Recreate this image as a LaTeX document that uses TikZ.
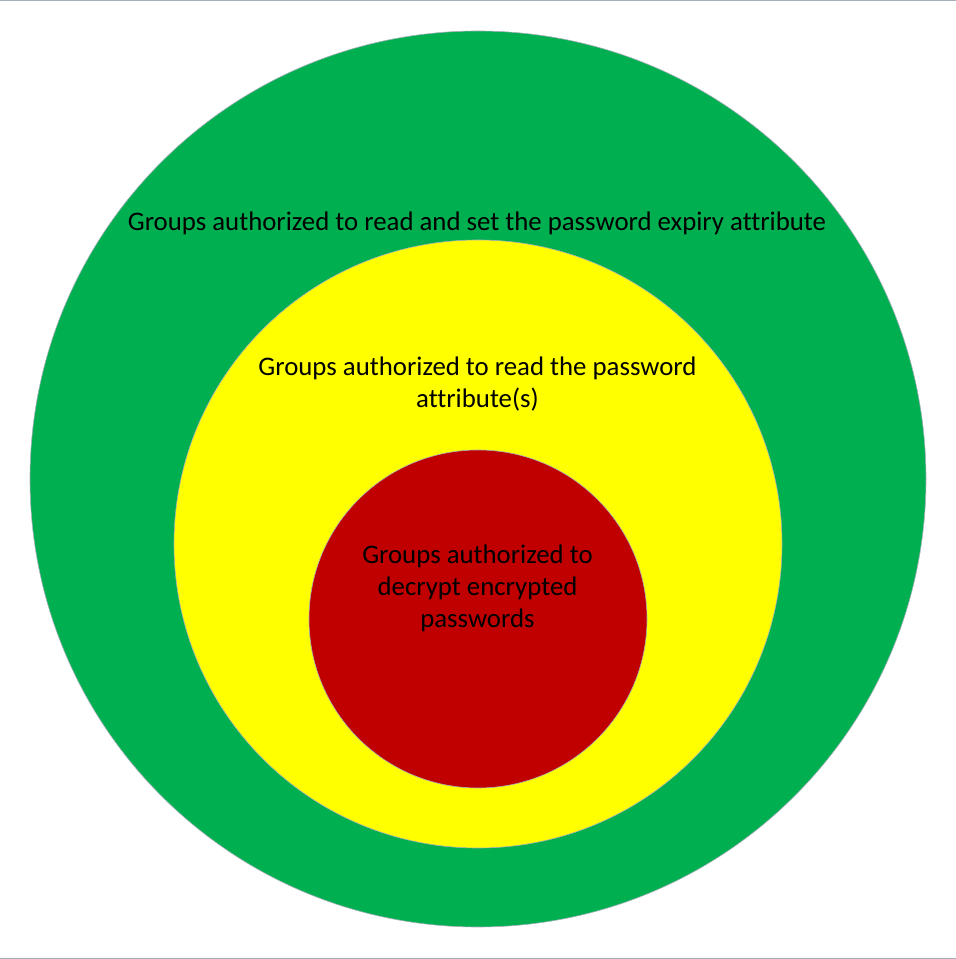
\documentclass[tikz,border=0pt]{standalone}
\usepackage{xcolor}
\usepackage{fontspec}
\setmainfont{Carlito}[Ligatures=NoCommon]
\usepackage{tikz}

\definecolor{ringgreen}{HTML}{00B050}
\definecolor{ringyellow}{HTML}{FFFF00}
\definecolor{ringred}{HTML}{C00000}
\definecolor{rimgray}{HTML}{A7AEBB}

\begin{document}
\begin{tikzpicture}[x=1pt,y=1pt,yscale=1,xscale=1,
  ring/.style={circle,draw=rimgray,line width=0.6pt,inner sep=0pt},
  ringtext/.style={align=center,inner sep=0.75pt,font=\fontsize{26.8}{32}\selectfont}]
\useasboundingbox (0,0) rectangle (956,959);
\draw [rimgray,line width=1pt] (0,958.5) -- (956,958.5) ;
\draw [rimgray,line width=1pt] (0,0.5) -- (956,0.5) ;
%Rings
\node [ring,fill=ringgreen,minimum size=896] (outer) at (478,480) {};
\node [ring,fill=ringyellow,minimum size=608] (middle) at (478,415) {};
\node [ring,fill=ringred,minimum size=338] (inner) at (478,340) {};
%Text
\node [ringtext] (outertext) at (477,736) {Groups authorized to read and set the password expiry attribute};
\node [ringtext] (middletext) at (477.5,575) {Groups authorized to read the password\\attribute(s)};
\node [ringtext] (innertext) at (477.5,371) {Groups authorized to\\decrypt encrypted\\passwords};
\end{tikzpicture}
\end{document}
